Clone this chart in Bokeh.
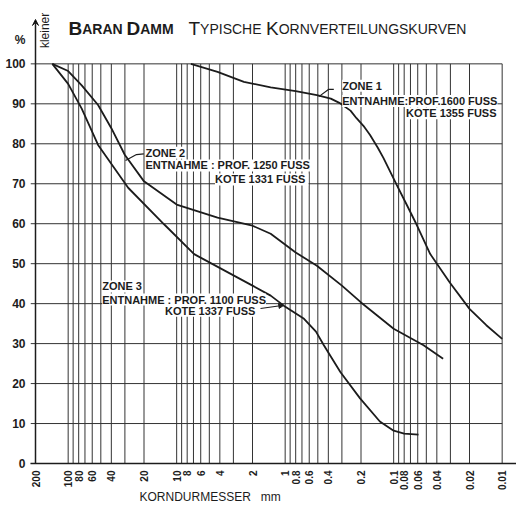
import math
from bokeh.plotting import figure
from bokeh.models import Range1d, FixedTicker, Label, Arrow, VeeHead, NormalHead
from bokeh.embed import file_html
from bokeh.resources import INLINE

# ---------------- data ----------------
zone1_size = [7.4, 4.2, 2.4, 1.36, 0.8, 0.51, 0.38, 0.31, 0.25, 0.22, 0.19, 0.165, 0.14, 0.124,
              0.094, 0.075, 0.0615, 0.046, 0.0304, 0.02, 0.014, 0.01]
zone1_pct = [100, 98, 95.5, 94.1, 93.2, 92.2, 91.3, 90.1, 88.3, 86.4, 84.5, 82.2, 79.0, 76.4,
             69.8, 64.5, 59.8, 52.4, 45.3, 38.7, 34.6, 31.2]

zone2_size = [140, 100, 75, 53, 40, 30, 20, 10, 4.2, 2, 1.36, 0.8, 0.51, 0.3, 0.2, 0.1, 0.053, 0.035]
zone2_pct = [100, 98.2, 94.6, 89.7, 83.9, 77.2, 70.6, 64.8, 61.5, 59.5, 57.5, 52.8, 49.5, 44.5, 40.3, 33.7, 29.6, 26.2]

zone3_size = [140, 100, 75, 53, 28, 13, 6.9, 2, 1.36, 1.03, 0.67, 0.52, 0.44, 0.31, 0.204, 0.134, 0.1, 0.08, 0.059]
zone3_pct = [100, 95, 88.8, 79.7, 69, 59.8, 52.4, 44.5, 42, 39.5, 36.2, 33.0, 29.6, 22.9, 16.3, 10.5, 8.2, 7.5, 7.2]

x_tick_values = [200, 100, 80, 60, 40, 20, 10, 8, 6, 4, 2, 1, 0.8, 0.6, 0.4, 0.2, 0.1, 0.08, 0.06, 0.04, 0.02, 0.01]
x_tick_labels = ["200", "100", "80", "60", "40", "20", "10", "8", "6", "4", "2", "1", "0.8", "0.6", "0.4",
                 "0.2", "0.1", "0.08", "0.06", "0.04", "0.02", "0.01"]
y_tick_values = [0, 10, 20, 30, 40, 50, 60, 70, 80, 90, 100]
y_unit_tick = 106          # where the "%" unit sits on the y axis
grid_sizes = [k * 10.0 ** n for n in (-2, -1, 0, 1) for k in range(1, 10)] + [100]
grid_pcts = [0, 10, 20, 30, 40, 50, 60, 70, 80, 90, 100]

x_caption = "KORNDURMESSER"
x_unit = "mm"
y_unit = "%"
y_caption = "kleiner"

# small-caps title pieces: (text, font px, weight, left edge px)
title_parts = [("B", 19, "bold", 68), ("ARAN", 14, "bold", 81.7), ("D", 19, "bold", 126),
               ("AMM", 14, "bold", 139.7), ("T", 19, "normal", 188), ("YPISCHE", 14, "normal", 199.6),
               ("K", 19, "normal", 265.5), ("ORNVERTEILUNGSKURVEN", 14, "normal", 278.2)]

FONT = "Liberation Sans"
INK = "#1c1c1c"
GRID = "#333333"
NB = "\u00a0"

X_AXIS_VAL = 200           # value at which the vertical axis line is drawn
PX_DEC = 108.5
AXIS_PX, FRAME_L, FRAME_B, PX_PCT = 35, 30, 466, 4.023


def xpos(px):
    # picture pixel -> data value along the log axis (annotation placement)
    return X_AXIS_VAL * 10 ** (-(px - AXIS_PX) / PX_DEC)


def ypos(py):
    return (FRAME_B - py) / PX_PCT


p = figure(width=516, height=506, x_axis_type="log",
           x_range=Range1d(xpos(FRAME_L), xpos(516)), y_range=Range1d(0, ypos(12)),
           output_backend="svg", toolbar_location=None,
           min_border_left=FRAME_L, min_border_right=0, min_border_top=12, min_border_bottom=40)
p.outline_line_color = None
p.grid.visible = False
p.background_fill_color = "white"

# grid
n = len(grid_sizes)
p.segment(x0=grid_sizes, y0=[0] * n, x1=grid_sizes, y1=[100] * n, line_color=GRID, line_width=1)
m = len(grid_pcts)
p.segment(x0=[xpos(FRAME_L)] * m, y0=grid_pcts, x1=[0.01] * m, y1=grid_pcts, line_color=GRID, line_width=1)

# curves
for xs, ys in ((zone1_size, zone1_pct), (zone2_size, zone2_pct), (zone3_size, zone3_pct)):
    p.line(xs, ys, line_color=INK, line_width=1.8)

# axes
xa = p.xaxis[0]
xa.ticker = FixedTicker(ticks=x_tick_values)
xa.major_label_overrides = {v: s for v, s in zip(x_tick_values, x_tick_labels)}
xa.major_label_orientation = math.pi / 2
xa.major_tick_out = 0
xa.major_tick_in = 0
xa.minor_tick_out = 0
xa.minor_tick_in = 0
xa.major_label_standoff = 7
xa.major_label_text_font = FONT
xa.major_label_text_font_style = "bold"
xa.major_label_text_font_size = "10px"
xa.major_label_text_color = INK
xa.axis_line_width = 1.5
xa.axis_line_color = INK
xa.axis_label = x_caption + NB * 3 + x_unit + NB * 38
xa.axis_label_text_font = FONT
xa.axis_label_text_font_size = "12px"
xa.axis_label_text_font_style = "normal"
xa.axis_label_text_color = INK
xa.axis_label_standoff = -3

ya = p.yaxis[0]
ya.ticker = FixedTicker(ticks=y_tick_values + [y_unit_tick])
ya.major_label_overrides = {y_unit_tick: y_unit}
ya.major_tick_out = 0
ya.major_tick_in = 0
ya.minor_tick_out = 0
ya.minor_tick_in = 0
ya.major_label_standoff = 5
ya.major_label_text_font = FONT
ya.major_label_text_font_style = "bold"
ya.major_label_text_font_size = "12px"
ya.major_label_text_color = INK
ya.axis_line_color = None

# vertical axis line with arrow head
p.add_layout(Arrow(x_start=X_AXIS_VAL, y_start=0, x_end=X_AXIS_VAL, y_end=ypos(19),
                   line_color=INK, line_width=1.5, end=VeeHead(size=6, line_color=INK, line_width=1)))

# title
for txt, size, style, px in title_parts:
    p.add_layout(Label(x=xpos(px), y=ypos(28.3), text=txt, text_font=FONT, text_font_size=f"{size}px",
                       text_font_style=style, text_color=INK, text_baseline="alphabetic", text_align="left"))

# y axis caption (right of the axis)
p.add_layout(Label(x=xpos(44.5), y=ypos(30), text=y_caption, angle=math.pi / 2, text_font=FONT,
                   text_font_size="12px", text_color=INK, text_align="center", text_baseline="middle"))


def zone_labels(name, line2, line3, x_left_px, x_right_px, y1, y2, y3):
    common = dict(text_font=FONT, text_font_size="11px", text_font_style="bold",
                  text_color=INK, text_baseline="middle", background_fill_color="white")
    p.add_layout(Label(x=xpos(x_left_px), y=ypos(y1), text=name, text_align="left", **common))
    p.add_layout(Label(x=xpos(x_left_px), y=ypos(y2), text=line2, text_align="left", **common))
    p.add_layout(Label(x=xpos(x_right_px), y=ypos(y3), text=line3, text_align="right", **common))


zone_labels("ZONE 1", "ENTNAHME:PROF.1600 FUSS", "KOTE 1355 FUSS", 341.7, 496, 85.7, 101, 113.3)
zone_labels("ZONE 2", "ENTNAHME : PROF. 1250 FUSS", "KOTE  1331 FUSS", 145, 308, 153.3, 166, 180)
zone_labels("ZONE 3", "ENTNAHME : PROF. 1100 FUSS", "KOTE  1337 FUSS", 101.7, 258, 287.7, 301, 312.3)

# leader lines
p.line([xpos(333.3), xpos(328.3), xpos(318.3)], [ypos(89.3), ypos(89.3), ypos(96.7)], line_color=INK, line_width=1.2)
p.line([xpos(143.3), xpos(136), xpos(125)], [ypos(154.3), ypos(155), ypos(161)], line_color=INK, line_width=1.2)
p.add_layout(Arrow(x_start=xpos(260), y_start=ypos(310), x_end=xpos(283.3), y_end=ypos(306.7),
                   line_color=INK, line_width=1.2, end=NormalHead(size=5, fill_color=INK, line_color=INK)))

open("out.html", "w").write(file_html(p, INLINE))
